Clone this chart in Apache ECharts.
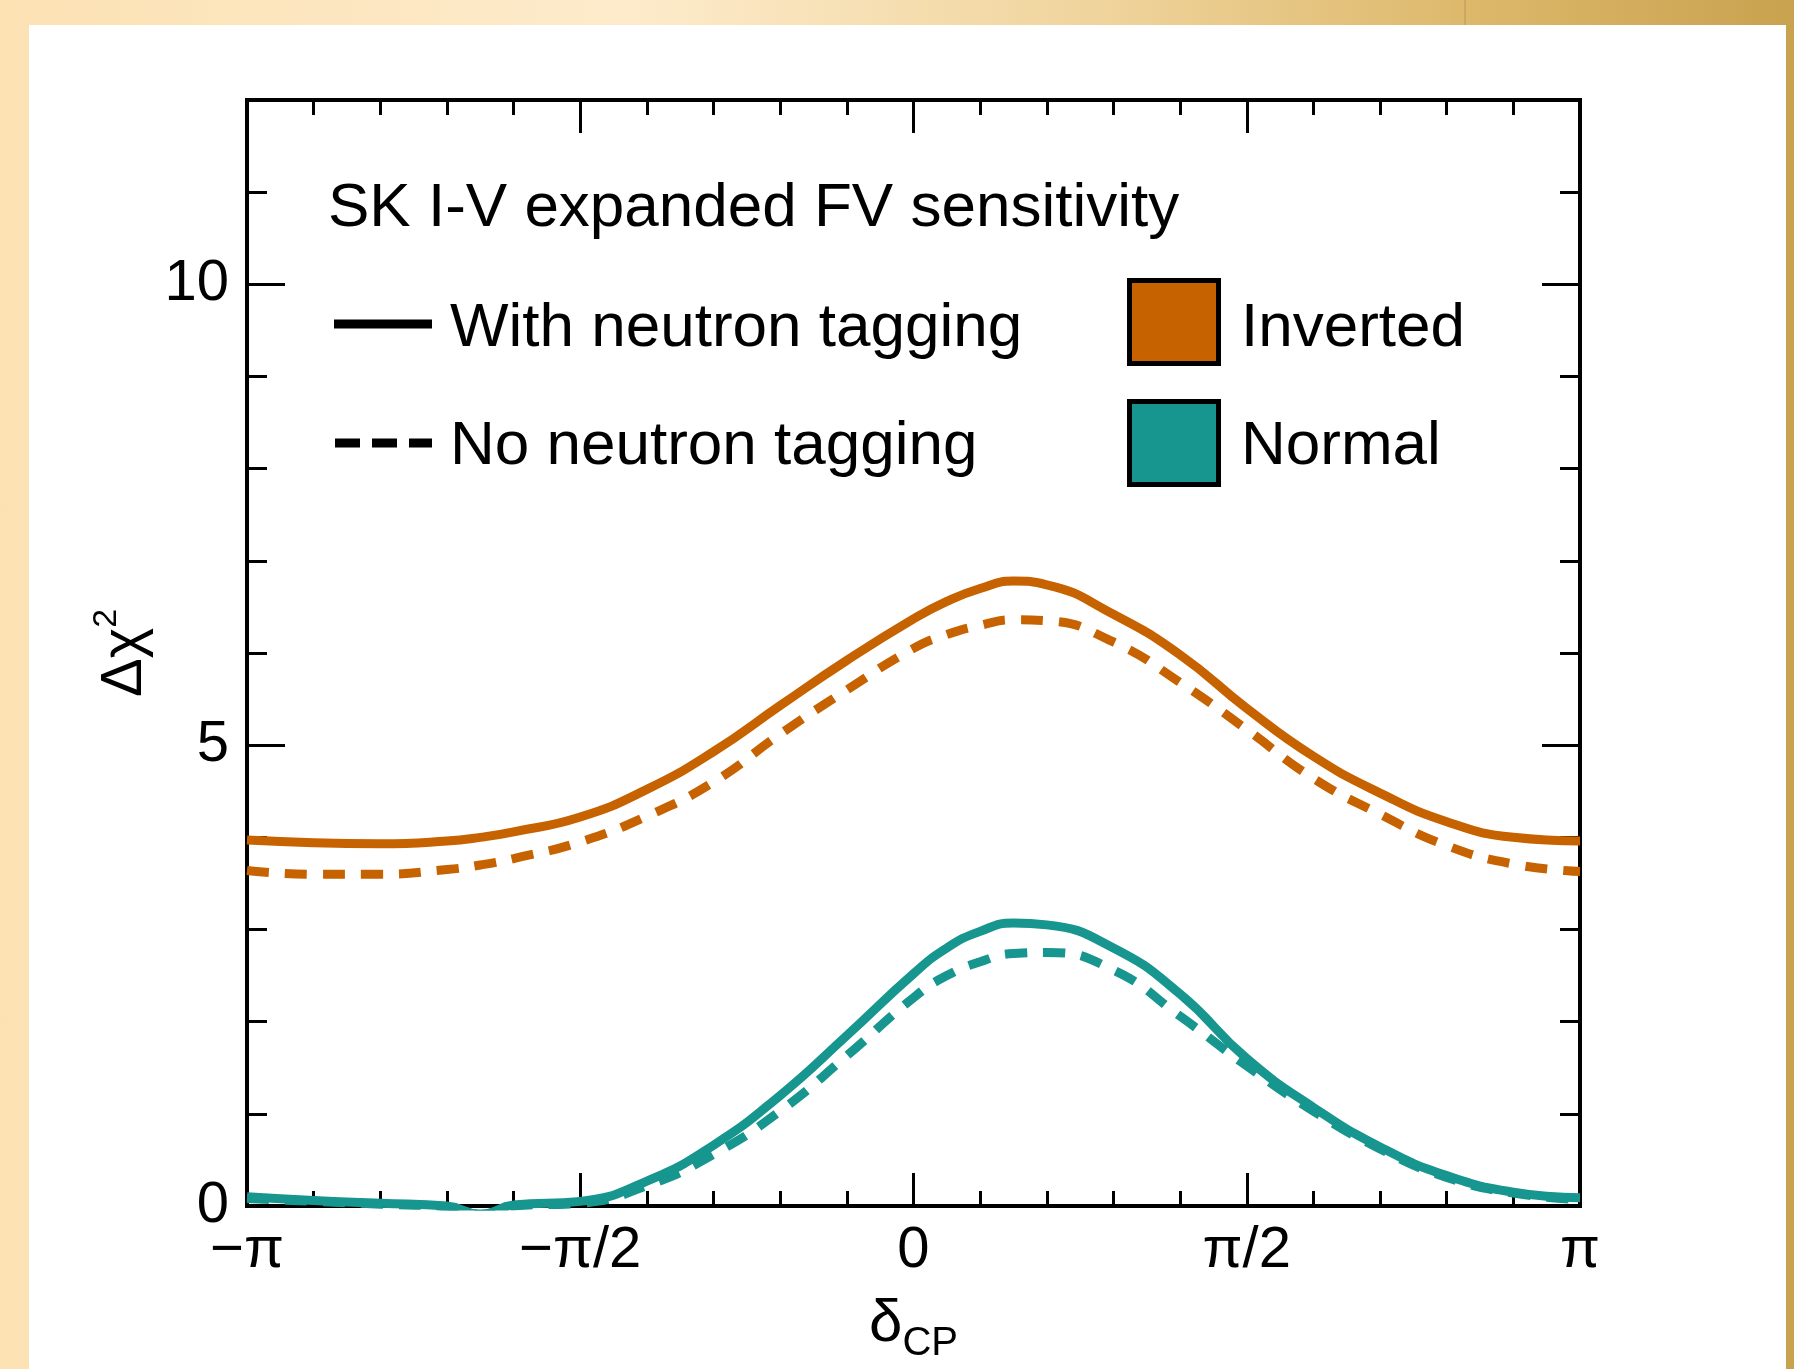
<!DOCTYPE html>
<html>
<head>
<meta charset="utf-8">
<script src="https://cdn.jsdelivr.net/npm/echarts@6/dist/echarts.min.js"></script>
<style>
  html, body { margin: 0; padding: 0; }
  body {
    width: 1794px; height: 1369px; position: relative; overflow: hidden;
    background: linear-gradient(to right, #FCE1B3 0%, #FDEBCB 35%, #EFD39B 62%, #DDB86B 82%, #C9A24F 100%);
  }
  #panel { position: absolute; left: 29px; top: 25px; width: 1757px; height: 1344px; background: #ffffff; }
  #seam { position: absolute; left: 1464px; top: 0; width: 2px; height: 25px; background: #C9A862; }
  #chart { position: absolute; left: 0; top: 0; width: 1794px; height: 1369px; }
</style>
</head>
<body>
<div id="panel"></div>
<div id="seam"></div>
<div id="chart"></div>
<script>
// x values: delta_CP in units of pi
const deltaCP = [-1, -0.9, -0.8, -0.7, -0.65, -0.6, -0.5, -0.4, -0.3, -0.2, -0.1, 0, 0.05, 0.1, 0.15, 0.2, 0.3, 0.4, 0.5, 0.6, 0.7, 0.8, 0.9, 1];

const invertedWithNtag = [3.97, 3.94, 3.93, 3.96, 4.00, 4.06, 4.22, 4.52, 4.93, 5.43, 5.92, 6.37, 6.56, 6.70, 6.78, 6.74, 6.42, 5.98, 5.40, 4.88, 4.48, 4.17, 4.00, 3.96];
const invertedNoNtag   = [3.64, 3.60, 3.60, 3.65, 3.70, 3.77, 3.95, 4.23, 4.60, 5.12, 5.60, 6.05, 6.20, 6.30, 6.36, 6.35, 6.12, 5.68, 5.17, 4.64, 4.25, 3.91, 3.71, 3.63];
const normalWithNtag   = [0.10, 0.06, 0.03, 0.00, -0.09, 0.01, 0.05, 0.27, 0.66, 1.20, 1.85, 2.52, 2.80, 2.98, 3.07, 3.05, 2.80, 2.30, 1.60, 1.07, 0.64, 0.33, 0.15, 0.09];
const normalNoNtag     = [0.08, 0.05, 0.02, -0.01, -0.09, 0.00, 0.03, 0.22, 0.56, 1.03, 1.63, 2.26, 2.50, 2.65, 2.74, 2.75, 2.56, 2.06, 1.52, 1.03, 0.62, 0.31, 0.14, 0.07];

const xTickValues = [-1, -0.5, 0, 0.5, 1];
const xTickLabels = ['\u2212\u03c0', '\u2212\u03c0/2', '0', '\u03c0/2', '\u03c0'];
const yLabelValues = [0, 5, 10];

const titleText = 'SK I-V expanded FV sensitivity';
const lineLegend = ['With neutron tagging', 'No neutron tagging'];
const colorLegend = ['Inverted', 'Normal'];

const ORANGE = '#C66300';
const TEAL = '#17958F';
const FONT = "'Liberation Sans', Arial, Helvetica, sans-serif";

const pair = (ys) => deltaCP.map((x, i) => [x, ys[i]]);

const chart = echarts.init(document.getElementById('chart'), null, { renderer: 'canvas' });

const tickStyle = { color: '#000', width: 3 };
const baseX = (pos, showLabels) => ({
  type: 'value', min: -1, max: 1, interval: 0.5, position: pos,
  axisLine: { show: false, onZero: false },
  splitLine: { show: false },
  axisTick: { show: true, inside: true, length: 33, lineStyle: tickStyle },
  minorTick: { show: true, splitNumber: 5, length: 15, lineStyle: tickStyle },
  minorSplitLine: { show: false },
  axisLabel: {
    show: showLabels, margin: 16, fontSize: 58, color: '#000', fontFamily: FONT,
    showMinLabel: true, showMaxLabel: true,
    formatter: (v) => { const i = xTickValues.findIndex(t => Math.abs(t - v) < 1e-9); return i >= 0 ? xTickLabels[i] : ''; }
  }
});
const baseY = (pos, interval, len, showLabels) => ({
  type: 'value', min: 0, max: 12, interval: interval, position: pos,
  axisLine: { show: false, onZero: false },
  splitLine: { show: false },
  axisTick: { show: true, inside: true, length: len, lineStyle: tickStyle },
  axisLabel: {
    show: showLabels, margin: 18, fontSize: 58, color: '#000', fontFamily: FONT,
    formatter: (v) => yLabelValues.indexOf(v) >= 0 ? String(v) : ''
  }
});

const xBottom = baseX('bottom', true);
xBottom.name = '{d|\u03b4}{s|CP}';
xBottom.nameLocation = 'middle';
xBottom.nameGap = 88;
xBottom.nameTextStyle = {
  rich: {
    d: { fontSize: 60, fontFamily: FONT, color: '#000', verticalAlign: 'bottom', padding: [0, 0, 10, 0] },
    s: { fontSize: 40, fontFamily: FONT, color: '#000', verticalAlign: 'bottom' }
  }
};

const yLeft = baseY('left', 1, 20, true);
yLeft.name = '{a|\u0394\u03c7}{b|2}';
yLeft.nameLocation = 'middle';
yLeft.nameGap = 90;
yLeft.nameTextStyle = {
  rich: {
    a: { fontSize: 58, fontFamily: FONT, color: '#000', verticalAlign: 'bottom' },
    b: { fontSize: 34, fontFamily: FONT, color: '#000', verticalAlign: 'bottom', padding: [0, 0, 30, 0] }
  }
};

const series = [
  { name: 'Inverted, no n-tag', data: pair(invertedNoNtag), color: ORANGE, dash: [22, 16] },
  { name: 'Normal, no n-tag', data: pair(normalNoNtag), color: TEAL, dash: [22, 16] },
  { name: 'Inverted, with n-tag', data: pair(invertedWithNtag), color: ORANGE, dash: 'solid' },
  { name: 'Normal, with n-tag', data: pair(normalWithNtag), color: TEAL, dash: 'solid' }
].map(s => ({
  type: 'line', name: s.name, data: s.data, xAxisIndex: 0, yAxisIndex: 0,
  showSymbol: false, symbol: 'none', smooth: 0.5, clip: true, silent: true,
  lineStyle: { color: s.color, width: 9, type: s.dash, cap: 'butt' },
  itemStyle: { color: s.color }, z: 3
}));

const FS = 62;
const g = [];
g.push({ type: 'text', left: 328, top: 178, style: { text: titleText, fontSize: FS, fontFamily: FONT, fill: '#000' } });
g.push({ type: 'line', shape: { x1: 334, y1: 324, x2: 432, y2: 324 }, style: { stroke: '#000', lineWidth: 9 } });
g.push({ type: 'text', left: 450, top: 298, style: { text: lineLegend[0], fontSize: FS, fontFamily: FONT, fill: '#000' } });
g.push({ type: 'line', shape: { x1: 335, y1: 443, x2: 432, y2: 443 }, style: { stroke: '#000', lineWidth: 9, lineDash: [25, 12] } });
g.push({ type: 'text', left: 450, top: 416, style: { text: lineLegend[1], fontSize: FS, fontFamily: FONT, fill: '#000' } });
g.push({ type: 'rect', shape: { x: 1129.5, y: 280.5, width: 89, height: 83 }, style: { fill: ORANGE, stroke: '#000', lineWidth: 5 } });
g.push({ type: 'text', left: 1241, top: 298, style: { text: colorLegend[0], fontSize: FS, fontFamily: FONT, fill: '#000' } });
g.push({ type: 'rect', shape: { x: 1129.5, y: 401.5, width: 89, height: 83 }, style: { fill: TEAL, stroke: '#000', lineWidth: 5 } });
g.push({ type: 'text', left: 1241, top: 416, style: { text: colorLegend[1], fontSize: FS, fontFamily: FONT, fill: '#000' } });

chart.setOption({
  animation: false,
  backgroundColor: 'transparent',
  textStyle: { fontFamily: FONT },
  grid: { left: 247, right: 214, top: 100, bottom: 156, show: true, borderColor: '#000', borderWidth: 4, backgroundColor: 'transparent', containLabel: false },
  xAxis: [xBottom, baseX('top', false)],
  yAxis: [yLeft, baseY('left', 5, 38, false), baseY('right', 1, 20, false), baseY('right', 5, 38, false)],
  series: series,
  graphic: g
});
</script>
</body>
</html>
